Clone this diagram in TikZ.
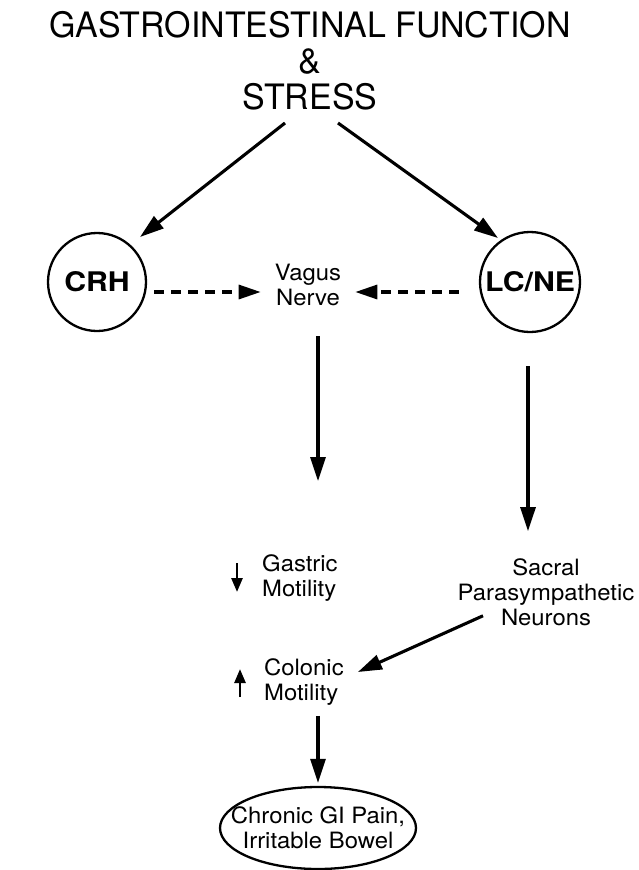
\documentclass[tikz,border=0pt]{standalone}
\usepackage{fontspec}
\setmainfont[FakeStretch=1.06]{TeX Gyre Heros}
\newfontfamily\titlefont[FakeStretch=0.97]{TeX Gyre Heros}
\newfontfamily\ringfont[FakeStretch=1.12]{TeX Gyre Heros}
\usetikzlibrary{arrows.meta,shapes.geometric,calc}
\begin{document}
\begin{tikzpicture}[x=1pt,y=-1pt,
  every node/.style={inner sep=0pt, align=center},
  lbl/.style={font=\fontsize{22.5}{25}\selectfont},
  ring/.style={circle, draw, line width=2.3pt, minimum size=98pt, font=\ringfont\fontsize{27}{28}\bfseries\selectfont},
  arr/.style={line width=3.1pt, -{Triangle[length=24pt,width=15pt]}},
  darr/.style={line width=3.1pt, dash pattern=on 10pt off 7pt, -{Triangle[length=22pt,width=14pt]}},
  sarr/.style={line width=2.6pt, -{Triangle[length=14pt,width=11pt]}},
]
\useasboundingbox (0,0) rectangle (639,870);
\node[font=\titlefont\fontsize{35}{36}\selectfont, anchor=north] (title) at (310,11) {GASTROINTESTINAL FUNCTION\\\&\\STRESS};
\node[ring] (crh) at (97,282) {CRH};
\node[ring, minimum size=100pt] (lcne) at (530,282) {LC/NE};
\node[lbl] (vagus) at (308,285) {Vagus\\Nerve};
\node[lbl, align=left, anchor=west] (gastric) at (262,578) {Gastric\\Motility};
\node[lbl] (sacral) at (546,592) {Sacral\\Parasympathetic\\Neurons};
\node[lbl, align=left, anchor=west] (colonic) at (264,682) {Colonic\\Motility};
\node[lbl, ellipse, draw, line width=2.3pt, inner xsep=-25pt, inner ysep=0pt, minimum width=196pt, minimum height=82pt] (pain) at (318,828) {Chronic GI Pain,\\Irritable Bowel};
% connectors
\coordinate (ts1) at (285,123);
\coordinate (ts2) at (338,123);
\draw[arr] (ts1) -- (140,237);
\draw[arr] (ts2) -- (498,238);
\draw[darr] ($(crh.east)+(7,10)$) -- ($(vagus.west)+(-14,7)$);
\draw[darr] ($(lcne.west)+(-20,10)$) -- ($(vagus.east)+(14,7)$);
\draw[arr] ($(vagus.south)+(10,30)$) -- ++(0,145);
\draw[arr] ($(lcne.south)+(-2,33)$) -- ++(0,165);
\draw[arr] ($(sacral.south)+(-63,-10)$) -- ($(colonic.east)+(14,-10)$);
\draw[arr] ($(pain.north)+(0,-70)$) -- ($(pain.north)+(0,-3)$);
% small indicator arrows
\draw[sarr] ($(gastric.west)+(-25,-15)$) -- ($(gastric.west)+(-25,14)$);
\draw[sarr] ($(colonic.west)+(-24,15)$) -- ($(colonic.west)+(-24,-13)$);
\end{tikzpicture}
\end{document}
